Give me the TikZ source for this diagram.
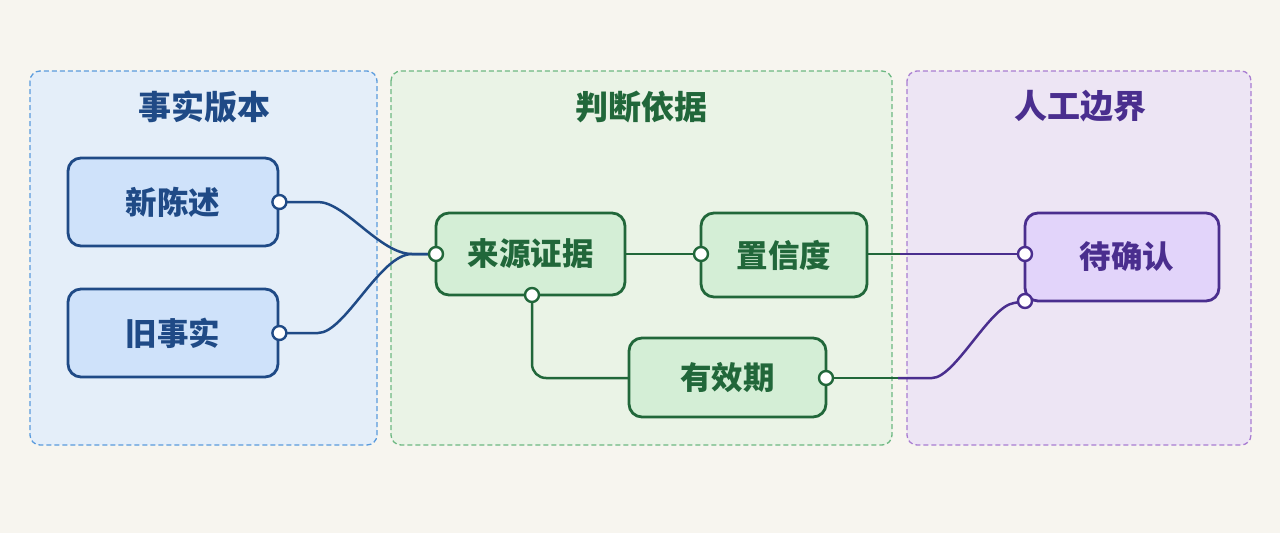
\documentclass[tikz,border=0pt]{standalone}
\usepackage{fontspec}
\setmainfont{Noto Sans CJK SC}
\usetikzlibrary{calc}
\definecolor{paper}{HTML}{F7F5EF}
\definecolor{bluefill}{HTML}{E4EEF9}
\definecolor{blueline}{HTML}{5A9BDD}
\definecolor{bluedark}{HTML}{1F4A86}
\definecolor{bluenode}{HTML}{CFE2FA}
\definecolor{greenfill}{HTML}{EAF3E6}
\definecolor{greenline}{HTML}{6DB882}
\definecolor{greendark}{HTML}{21673A}
\definecolor{greennode}{HTML}{D4EED6}
\definecolor{purplefill}{HTML}{EDE5F4}
\definecolor{purpleline}{HTML}{A97DD2}
\definecolor{purpledark}{HTML}{4A2E8E}
\definecolor{purplenode}{HTML}{E2D4FA}
\tikzset{
  panel/.style={rounded corners=10pt, dashed, dash pattern=on 5pt off 3pt, line width=1.3pt},
  ptitle/.style={font=\fontsize{33}{36}\selectfont\bfseries, anchor=center},
  box/.style={rounded corners=13pt, line width=2.8pt, font=\fontsize{31.5}{34}\selectfont\bfseries},
  wire/.style={line width=2.5pt},
  conn/.style={line width=2.5pt, rounded corners=14pt},
  port/.style={circle, fill=white, line width=2.4pt, inner sep=0pt, minimum size=14pt}
}
\begin{document}
\begin{tikzpicture}[x=1pt,y=-1pt]
\useasboundingbox (0,0) rectangle (1280,533);
\fill[paper] (0,0) rectangle (1280,533);
% panels
\draw[panel, draw=blueline, fill=bluefill] (30,71) rectangle (377,445);
\draw[panel, draw=greenline, fill=greenfill] (391,71) rectangle (892,445);
\draw[panel, draw=purpleline, fill=purplefill] (907,71) rectangle (1251,445);
\node[ptitle, text=bluedark] (t1) at (204,107) {事实版本};
\node[ptitle, text=greendark] (t2) at (641,107) {判断依据};
\node[ptitle, text=purpledark] (t3) at (1080,106) {人工边界};
% nodes
\node[box, draw=bluedark, fill=bluenode, text=bluedark, minimum width=210pt, minimum height=88pt] (n1) at (173,202) {新陈述};
\node[box, draw=bluedark, fill=bluenode, text=bluedark, minimum width=210pt, minimum height=88pt] (n2) at (173,333) {旧事实};
\node[box, draw=greendark, fill=greennode, text=greendark, minimum width=189pt, minimum height=82pt] (s) at (530.5,254) {来源证据};
\node[box, draw=greendark, fill=greennode, text=greendark, minimum width=166pt, minimum height=84pt] (c) at (784,255) {置信度};
\node[box, draw=greendark, fill=greennode, text=greendark, minimum width=197pt, minimum height=79pt] (v) at (727.5,377.5) {有效期};
\node[box, draw=purpledark, fill=purplenode, text=purpledark, minimum width=194pt, minimum height=88pt, text width=180pt, align=center] (p) at (1122,257) {\hspace*{10pt}待确认};
% port coordinates
\coordinate (n1r) at (n1.east);
\coordinate (n2r) at (n2.east);
\coordinate (sl) at (436,254);
\coordinate (sb) at (532,295);
\coordinate (cl) at (701,254);
\coordinate (cr) at (867,254);
\coordinate (vl) at (629,378);
\coordinate (vr) at (826,378);
\coordinate (pl) at (1025,254);
\coordinate (pb) at (1025,301);
% connectors
\draw[wire, bluedark] (n1r) -- (318,202) .. controls (345,202) and (380,254) .. (412,254) -- (sl);
\draw[wire, bluedark] (n2r) -- (318,333) .. controls (345,333) and (380,254) .. (412,254) -- (sl);
\draw[conn, greendark] (sb) -- (532,378) -- (vl);
\draw[wire, greendark] (s.east) -- (cl);
\begin{scope}
\clip (860,0) rectangle (900,533);
\draw[wire, greendark] (cr) -- (pl);
\end{scope}
\begin{scope}
\clip (900,0) rectangle (1280,533);
\draw[wire, purpledark] (cr) -- (pl);
\end{scope}
\draw[wire, greendark] (vr) -- (898,378);
\draw[wire, purpledark] (898,378) -- (932,378) .. controls (955,378) and (990,306) .. (1014,303) -- (pb);
% ports
\foreach \pt/\col in {n1r/bluedark, n2r/bluedark, sl/greendark, sb/greendark, cl/greendark, vr/greendark, pl/purpledark, pb/purpledark}
  \node[port, draw=\col] at (\pt) {};
\end{tikzpicture}
\end{document}
